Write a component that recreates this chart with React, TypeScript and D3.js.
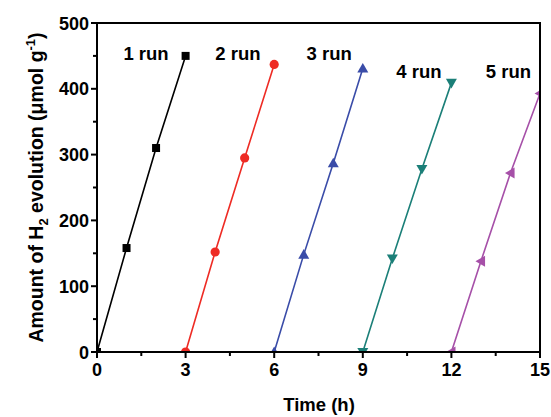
import React from "react";
import * as d3 from "d3";

const runLabels = ["1 run", "2 run", "3 run", "4 run", "5 run"];
const runTimes = [
  [0, 1, 2, 3],
  [3, 4, 5, 6],
  [6, 7, 8, 9],
  [9, 10, 11, 12],
  [12, 13, 14, 15],
];
const runValues = [
  [0, 158, 310, 450],
  [0, 152, 295, 437],
  [0, 148, 287, 431],
  [0, 142, 278, 409],
  [0, 138, 272, 393],
];
const runColors = ["#000000", "#ee2b24", "#3a4ca8", "#1b7f78", "#a650a8"];
const runSymbols = ["square", "circle", "up", "down", "left"];
const labelPos = [
  [1.66, 444], [4.77, 444], [7.86, 444], [10.9, 416], [13.93, 416],
];
const xTicks = [0, 3, 6, 9, 12, 15];
const yTicks = [0, 100, 200, 300, 400, 500];

const W = 551, H = 417;
const L = 97, R = 540, T = 23, B = 352;

function Marker({ type, x, y, color }: { type: string; x: number; y: number; color: string }) {
  const s = 4;
  if (type === "square") return <rect x={x - s} y={y - s} width={2 * s} height={2 * s} fill={color} />;
  if (type === "circle") return <circle cx={x} cy={y} r={4.6} fill={color} />;
  const t = 5.5;
  let pts: number[][] = [];
  if (type === "up") pts = [[x, y - t], [x + t, y + t * 0.75], [x - t, y + t * 0.75]];
  if (type === "down") pts = [[x, y + t], [x + t, y - t * 0.75], [x - t, y - t * 0.75]];
  if (type === "left") pts = [[x - t, y], [x + t * 0.75, y - t], [x + t * 0.75, y + t]];
  return <polygon points={pts.map((p) => p.join(",")).join(" ")} fill={color} />;
}

export default function App() {
  const x = d3.scaleLinear().domain([0, 15]).range([L, R]);
  const y = d3.scaleLinear().domain([0, 500]).range([B, T]);
  const line = d3.line<[number, number]>().x((d) => x(d[0])).y((d) => y(d[1]));
  const xMinor = d3.range(1.5, 15, 3);
  const yMinor = d3.range(50, 500, 100);
  const font = "Arial, 'Liberation Sans', sans-serif";
  return (
    <svg width={W} height={H} style={{ position: "absolute", left: 0, top: 0 }} fontFamily={font}>
      <defs>
        <clipPath id="plot">
          <rect x={L} y={T} width={R - L} height={B - T} />
        </clipPath>
      </defs>
      <g clipPath="url(#plot)">
        {runValues.map((vals, i) => {
          const pts = vals.map((v, j) => [runTimes[i][j], v] as [number, number]);
          return (
            <g key={i}>
              <path d={line(pts) || ""} fill="none" stroke={runColors[i]} strokeWidth={1.6} />
              {pts.map((p, j) => (
                <Marker key={j} type={runSymbols[i]} x={x(p[0])} y={y(p[1])} color={runColors[i]} />
              ))}
            </g>
          );
        })}
      </g>
      <rect x={L} y={T} width={R - L} height={B - T} fill="none" stroke="#000" strokeWidth={2} />
      {xTicks.map((t) => (
        <g key={"xt" + t}>
          <line x1={x(t)} x2={x(t)} y1={B} y2={B + 6} stroke="#000" strokeWidth={2} />
          <text x={x(t)} y={B + 24} textAnchor="middle" fontSize={18} fontWeight="bold">{t}</text>
        </g>
      ))}
      {xMinor.map((t) => (
        <line key={"xm" + t} x1={x(t)} x2={x(t)} y1={B} y2={B + 4} stroke="#000" strokeWidth={2} />
      ))}
      {yTicks.map((t) => (
        <g key={"yt" + t}>
          <line x1={L - 6} x2={L} y1={y(t)} y2={y(t)} stroke="#000" strokeWidth={2} />
          <text x={L - 8} y={y(t) + 6.5} textAnchor="end" fontSize={18} fontWeight="bold">{t}</text>
        </g>
      ))}
      {yMinor.map((t) => (
        <line key={"ym" + t} x1={L - 4} x2={L} y1={y(t)} y2={y(t)} stroke="#000" strokeWidth={2} />
      ))}
      {runLabels.map((lab, i) => (
        <text key={lab} x={x(labelPos[i][0])} y={y(labelPos[i][1])} textAnchor="middle" fontSize={18.5} fontWeight="bold">{lab}</text>
      ))}
      <text x={319} y={411} textAnchor="middle" fontSize={18.5} fontWeight="bold">Time (h)</text>
      <text transform={`translate(43,${(T + B) / 2}) rotate(-90)`} textAnchor="middle" fontSize={19.5} fontWeight="bold">
        Amount of H<tspan fontSize={13} dy={5}>2</tspan>
        <tspan dy={-5}> evolution (μmol g</tspan>
        <tspan fontSize={13} dy={-8}>-1</tspan>
        <tspan dy={8}>)</tspan>
      </text>
    </svg>
  );
}
